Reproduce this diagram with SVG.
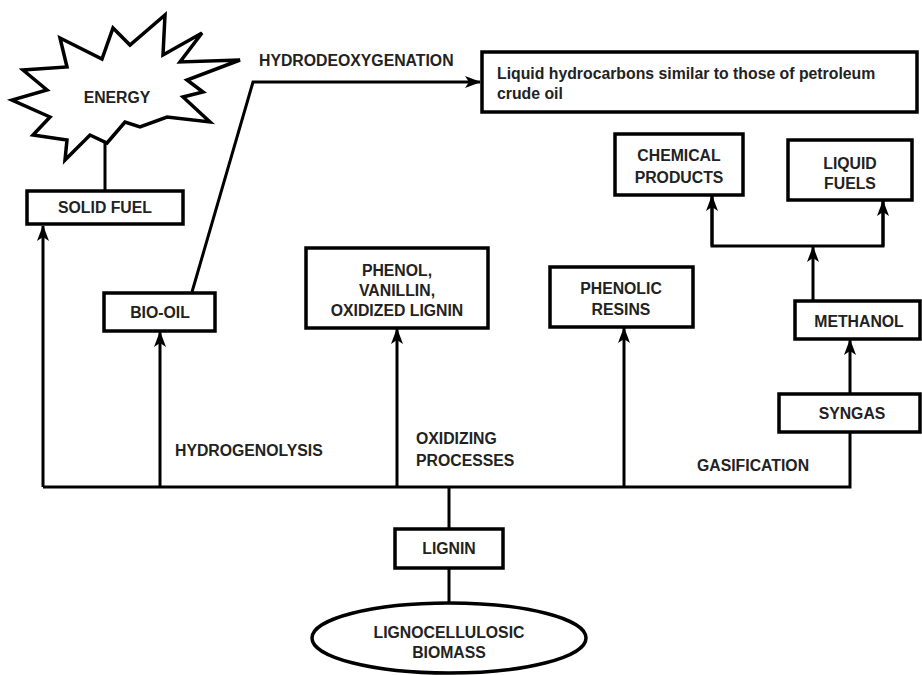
<svg xmlns="http://www.w3.org/2000/svg" width="922" height="675" viewBox="0 0 922 675">
<defs>
<style>
.box{fill:#fff;stroke:#000;stroke-width:3.5}
.ln{fill:none;stroke:#000;stroke-width:3}
.t{font-family:"Liberation Sans",Arial,sans-serif;font-weight:bold;font-size:15.8px;fill:#222;text-anchor:middle}
.tl{font-family:"Liberation Sans",Arial,sans-serif;font-weight:bold;font-size:15.8px;fill:#222}
</style>
<marker id="ah" markerUnits="userSpaceOnUse" markerWidth="16" markerHeight="12" viewBox="0 0 16 12" refX="15" refY="6" orient="auto">
<path d="M0,0 L16,6 L0,12 L4,6 z" fill="#000"/>
</marker>
</defs>
<rect width="922" height="675" fill="#fff"/>
<g id="connectors">
<line class="ln" x1="105" y1="143" x2="105" y2="190"/>
<polyline class="ln" points="43,487 850,487 850,432"/>
<line class="ln" x1="43" y1="487" x2="43" y2="226" marker-end="url(#ah)"/>
<line class="ln" x1="160" y1="487" x2="160" y2="332" marker-end="url(#ah)"/>
<line class="ln" x1="397" y1="487" x2="397" y2="329" marker-end="url(#ah)"/>
<line class="ln" x1="624" y1="487" x2="624" y2="328" marker-end="url(#ah)"/>
<polyline class="ln" points="192,292 253,82 480,82" marker-end="url(#ah)"/>
<line class="ln" x1="850" y1="393" x2="850" y2="340" marker-end="url(#ah)"/>
<line class="ln" x1="813" y1="300" x2="813" y2="247" marker-end="url(#ah)"/>
<polyline class="ln" points="712,196 712,246 883,246 883,201"/>
<line class="ln" x1="712" y1="246" x2="712" y2="196" marker-end="url(#ah)"/>
<line class="ln" x1="883" y1="246" x2="883" y2="201" marker-end="url(#ah)"/>
<line class="ln" x1="449" y1="487" x2="449" y2="529"/>
<line class="ln" x1="449" y1="568" x2="449" y2="602"/>
</g>
<g id="energy">
<polygon class="box" points="60,38 102,59 113,28 130,45 165,15 163,55 202,33 180,62 240,60 187,80 203,92 183,97 210,122 167,117 140,127 125,122 107,143 90,135 65,160 67,140 33,135 50,117 12,100 47,90 23,70 67,67"/>
<text class="t" x="117" y="103">ENERGY</text>
</g>
<g id="solid-fuel">
<rect class="box" x="27" y="191" width="156" height="33"/>
<text class="t" x="105" y="213">SOLID FUEL</text>
</g>
<g id="bio-oil">
<rect class="box" x="104" y="293" width="111" height="38"/>
<text class="t" x="160" y="318">BIO-OIL</text>
</g>
<g id="liquid-hydrocarbons">
<rect class="box" x="482" y="52" width="435" height="60"/>
<text class="tl" x="497" y="79">Liquid hydrocarbons similar to those of petroleum</text>
<text class="tl" x="497" y="99">crude oil</text>
</g>
<g id="phenol">
<rect class="box" x="306" y="248" width="182" height="80"/>
<text class="t" x="397" y="276">PHENOL,</text>
<text class="t" x="397" y="296">VANILLIN,</text>
<text class="t" x="397" y="316">OXIDIZED LIGNIN</text>
</g>
<g id="phenolic-resins">
<rect class="box" x="550" y="267" width="143" height="60"/>
<text class="t" x="621" y="294">PHENOLIC</text>
<text class="t" x="621" y="315">RESINS</text>
</g>
<g id="chemical-products">
<rect class="box" x="615" y="134" width="128" height="61"/>
<text class="t" x="679" y="161">CHEMICAL</text>
<text class="t" x="679" y="183">PRODUCTS</text>
</g>
<g id="liquid-fuels">
<rect class="box" x="788" y="140" width="124" height="60"/>
<text class="t" x="850" y="169">LIQUID</text>
<text class="t" x="850" y="189">FUELS</text>
</g>
<g id="methanol">
<rect class="box" x="795" y="301" width="125" height="38"/>
<text class="t" x="859" y="327">METHANOL</text>
</g>
<g id="syngas">
<rect class="box" x="779" y="394" width="141" height="38"/>
<text class="t" x="852" y="419">SYNGAS</text>
</g>
<g id="lignin">
<rect class="box" x="395" y="529" width="108" height="39"/>
<text class="t" x="449" y="554">LIGNIN</text>
</g>
<g id="biomass">
<ellipse class="box" cx="449" cy="638" rx="137" ry="35"/>
<text class="t" x="449" y="638">LIGNOCELLULOSIC</text>
<text class="t" x="449" y="658">BIOMASS</text>
</g>
<g id="labels">
<text class="tl" x="259" y="66">HYDRODEOXYGENATION</text>
<text class="tl" x="175" y="456">HYDROGENOLYSIS</text>
<text class="tl" x="416" y="444">OXIDIZING</text>
<text class="tl" x="416" y="466">PROCESSES</text>
<text class="tl" x="697" y="471">GASIFICATION</text>
</g>
</svg>
